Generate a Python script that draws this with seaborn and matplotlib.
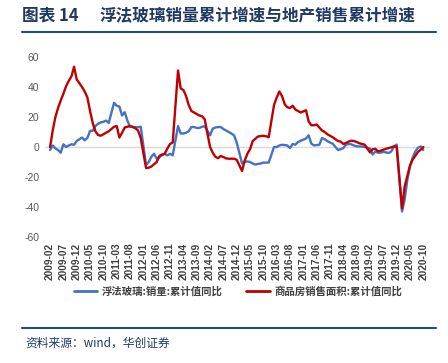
import matplotlib
matplotlib.use("Agg")
import matplotlib.pyplot as plt
import numpy as np
import pandas as pd
import seaborn as sns
from matplotlib.lines import Line2D

# ---------------- data ----------------
months = pd.date_range("2009-02-01", "2020-10-01", freq="MS").strftime("%Y-%m").tolist()
N = np.nan

# 浮法玻璃:销量:累计值同比 (%), January not reported
glass = [
    -2, 1, -1, -2, -3.8, 1.8, 0, 1, 1.8, 1.5, 4,                 # 2009-02..12
    N, 6.3, 4.5, 6, 10.8, 10.8, 14, 15.5, 16.4, 16.8, 17.6, 16,   # 2010
    N, 29.5, 27.5, 27, 21, 23.2, 17.6, 13.5, 13.2, 13.2, 13.2, 13.5,  # 2011
    N, -12, -10, -6.5, -4.5, -7.8, -6.7, -5.5, -4.5, -5.6, -4.5, -5.6,  # 2012
    N, 14, 9, 9, 9.5, 10.5, 13.3, 13.3, 12.7, 12.7, 13.5, 13.8,   # 2013
    N, 7.8, 12.2, 13, 13.3, 13.3, 12, 11, 10, 9, 7.8, 3,          # 2014
    N, -11, -10, -9.6, -10, -11, -11.7, -11.3, -11, -10.4, -10.4, -10.4,  # 2015
    N, 0, 0, 1, 1.5, 1.3, 1, -0.7, 2, 1.5, 3.3, 4.2,              # 2016
    N, 5.6, 7.8, 2.2, 1.1, 1.3, 1.5, 6, 5.1, 4, 3, 2.2,           # 2017
    N, -2, -1.5, -0.7, 1.6, 2, 1.8, 1, 0.4, 0.4, 0.3, 0,          # 2018
    N, -1, -5, -3, -3.8, -3.8, -3.3, -3.6, -4, -2.9, 0.4, 1.6,    # 2019
    N, -43, -35, -22, -13, -7, -3, -0.5, 0.4, -2,                 # 2020-01..10
]

# 商品房销售面积:累计值同比 (%)
housing = [
    0, 11, 20, 26, 31, 35.5, 40.5, 44, 47, 53.5, 45,              # 2009-02..12
    N, 40, 37, 33, 24, 16, 10.5, 8, 7.5, 8.5, 9.5, 10.5,          # 2010
    N, 13.5, 14, 6.3, 9.5, 13, 13.5, 14, 13.5, 12.5, 11, 6,       # 2011
    N, -14, -13.8, -13, -11.5, -10, -6, -5, -4.5, -1, 2, 3,       # 2012
    N, 51, 39, 38, 34, 28, 24, 23, 22, 21, 20.5, 18.5,            # 2013
    N, 0, -3.8, -6.5, -7.5, -6, -6.7, -7.6, -7.8, -7.8, -7.8, -8.5,  # 2014
    N, -16, -9, -4.5, -1.5, 3.9, 5.5, 7, 7.3, 7.5, 7.2, 6.5,      # 2015
    N, 28, 33, 37, 34, 28.5, 26.5, 26, 27.5, 25, 24, 23,          # 2016
    N, 24.5, 17, 14.5, 14.5, 15, 13, 11, 10, 8.5, 7.5, 6.5,       # 2017
    N, 4, 3.6, 2, 2.7, 3.6, 4.2, 4, 3.3, 2.5, 2, 1.6,             # 2018
    N, -3.6, -1.5, -1.2, -2.9, -2.5, -1.8, -1.2, -0.7, -0.2, 0.4, 0.2,  # 2019
    N, -41, -26.3, -19.3, -12.3, -8.4, -5.8, -3.3, -1.8, 0,       # 2020-01..10
]

series_names = ["浮法玻璃:销量:累计值同比", "商品房销售面积:累计值同比"]
series_colors = ["#4472C4", "#C00000"]
tick_step = 5
tick_labels = months[::tick_step]
y_ticks = [-60, -40, -20, 0, 20, 40, 60]

title_tag = "图表 14"
title_text = "浮法玻璃销量累计增速与地产销售累计增速"
source_text = "资料来源：wind，华创证券"

# ---------------- plot ----------------
sns.set_style("white")
plt.rcParams["font.family"] = ["Noto Sans CJK SC", "DejaVu Sans"]

W, H = 448, 363
fig = plt.figure(figsize=(W / 100, H / 100), dpi=100)
ax = fig.add_axes([45 / W, 1 - 237 / H, 385 / W, 180 / H])

df = pd.DataFrame({"month": months, "idx": np.arange(len(months)),
                   series_names[0]: glass, series_names[1]: housing})
long = df.melt(id_vars=["month", "idx"], var_name="series",
               value_name="value").dropna()

ax.axhline(0, color="#D9D9D9", lw=1.0, zorder=1)
sns.lineplot(data=long, x="idx", y="value", hue="series",
             hue_order=series_names, palette=series_colors,
             lw=1.7, estimator=None, legend=False, ax=ax, zorder=3)

ax.set_xlim(-1.9, 142.5)
ax.set_ylim(-60, 60)
ax.set_yticks(y_ticks)
ax.set_yticklabels([str(v) for v in y_ticks], fontsize=7.5,
                   family="Liberation Sans", color="#595959")
tick_pos = list(range(0, len(months), tick_step))
ax.set_xticks(tick_pos)
ax.set_xticklabels(tick_labels, rotation=90, fontsize=7.3,
                   family="Liberation Sans", fontweight="bold", color="#404040")
ax.tick_params(axis="x", length=0, pad=4)
ax.tick_params(axis="y", length=0, pad=4)
ax.set_xlabel("")
ax.set_ylabel("")
sns.despine(ax=ax, left=True, bottom=True)

handles = [Line2D([0], [0], color=c, lw=2) for c in series_colors]
fig.legend(handles, series_names, loc="center", bbox_to_anchor=(238 / W, 1 - 291 / H),
           ncol=2, frameon=False, handlelength=2.3, columnspacing=2.3,
           handletextpad=0.4, prop={"family": ["Noto Sans CJK SC"], "size": 7.5,
                                    "weight": "bold"}, labelcolor="#404040")

# header and footer
fig.text(22 / W, 1 - 16 / H, title_tag, fontsize=12, fontweight="bold",
         color="#1F3864", va="center", ha="left")
fig.text(100 / W, 1 - 16 / H, title_text, fontsize=12, fontweight="bold",
         color="#1F3864", va="center", ha="left")
fig.add_artist(Line2D([22 / W, 436 / W], [1 - 31.5 / H] * 2, color="#1F4E79", lw=1.5))
fig.add_artist(Line2D([22 / W, 436 / W], [1 - 328 / H] * 2, color="#1F4E79", lw=1.5))
fig.text(25 / W, 1 - 343 / H, source_text, fontsize=8.5, color="#1F3864",
         va="center", ha="left")

fig.savefig("out.png", dpi=100)
